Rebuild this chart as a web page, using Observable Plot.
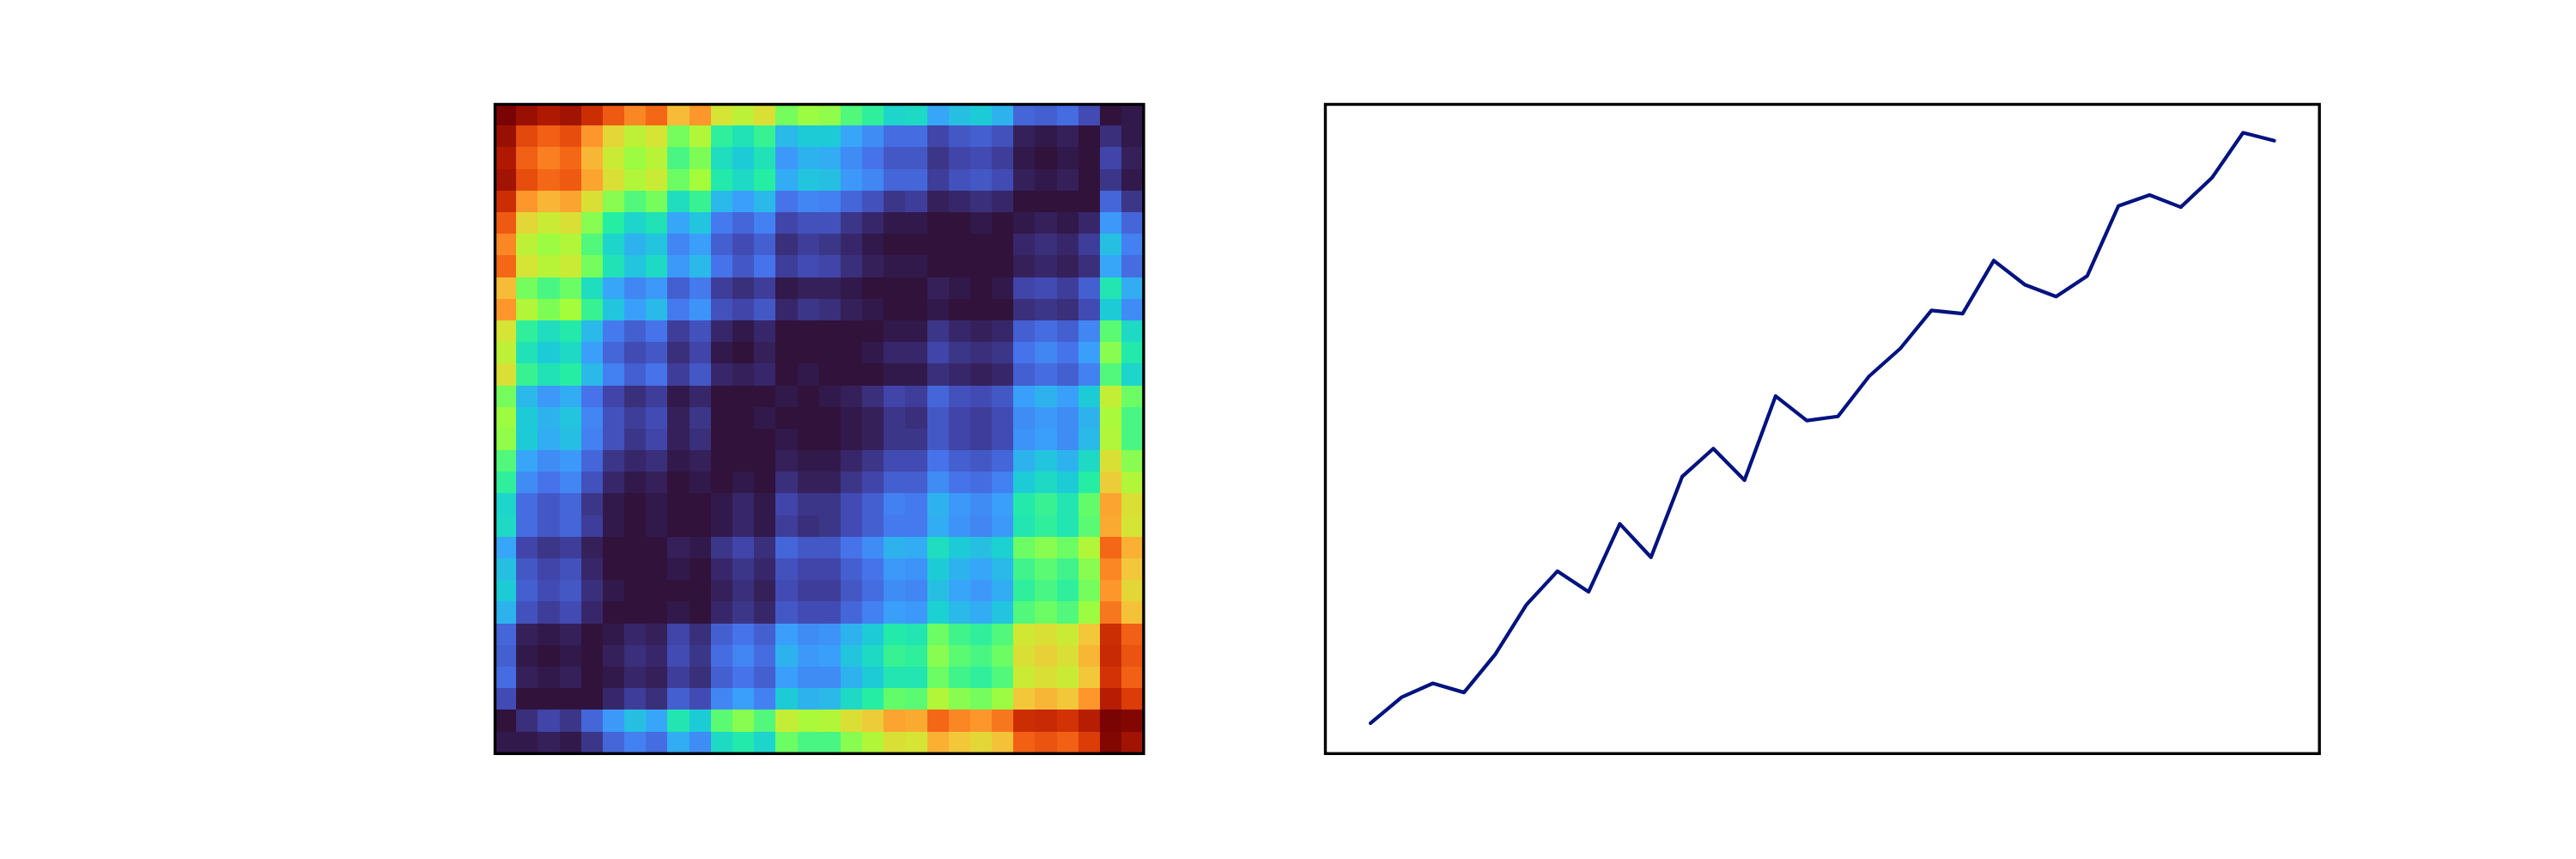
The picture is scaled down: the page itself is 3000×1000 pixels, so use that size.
<!DOCTYPE html>
<html>
<head>
<meta charset="utf-8">
<script src="https://cdn.jsdelivr.net/npm/d3@7"></script>
<script src="https://cdn.jsdelivr.net/npm/@observablehq/plot@0.6"></script>
<style>
html,body{margin:0;padding:0;background:#fff;}
#page{position:relative;width:3000px;height:1000px;overflow:hidden;background:#fff;}
#page svg{position:absolute;display:block;background:transparent;max-width:none;}
</style>
</head>
<body>
<div id="page"></div>
<script>
// Line panel: value read at each of the 30 steps
const steps = [0,1,2,3,4,5,6,7,8,9,10,11,12,13,14,15,16,17,18,19,20,21,22,23,24,25,26,27,28,29];
const series = [-1.000,-0.912,-0.865,-0.896,-0.767,-0.599,-0.485,-0.555,-0.325,-0.438,-0.165,-0.070,-0.177,0.108,0.025,0.039,0.175,0.269,0.398,0.387,0.567,0.485,0.445,0.515,0.752,0.789,0.748,0.847,1.000,0.973];

// Heat panel: position on the colour ramp (0-100), one row per line of cells
const heat = [
[100,96,93,95,88,80,74,78,66,72,58,54,59,45,49,48,41,37,30,31,22,26,28,24,12,11,13,8,0,1],
[96,83,79,82,72,61,54,58,45,52,37,33,38,25,28,28,22,18,13,13,7,10,11,9,2,1,2,0,4,1],
[93,79,75,78,67,56,49,53,40,46,32,28,33,20,24,23,18,14,10,10,5,7,8,6,1,0,1,0,7,2],
[95,82,78,80,70,59,52,56,44,50,35,31,36,23,27,26,20,17,12,12,6,9,10,8,2,1,2,0,5,1],
[88,72,67,70,59,47,41,45,32,38,25,21,25,14,17,16,12,9,5,6,2,3,4,3,0,0,0,0,12,5],
[80,61,56,59,47,36,30,33,22,27,15,12,16,7,9,9,5,3,1,1,0,0,1,0,1,2,1,3,20,12],
[74,54,49,52,41,30,24,27,17,21,11,8,11,4,6,5,3,1,0,0,0,0,0,0,3,4,3,6,26,16],
[78,58,53,56,45,33,27,31,20,25,14,10,14,6,8,7,4,2,1,1,0,0,0,0,2,3,2,4,22,13],
[66,45,40,44,32,22,17,20,11,15,6,4,6,1,2,2,1,0,0,0,2,1,0,1,7,8,6,11,34,23],
[72,52,46,50,38,27,21,25,15,19,9,7,10,3,5,4,2,1,0,0,1,0,0,0,4,5,4,8,28,18],
[58,37,32,35,25,15,11,14,6,9,3,1,3,0,0,0,0,0,1,1,5,3,2,3,11,13,11,17,42,31],
[54,33,28,31,21,12,8,10,4,7,1,0,2,0,0,0,0,1,3,3,7,5,4,5,14,17,14,21,47,35],
[59,38,33,36,25,16,11,14,6,10,3,2,3,0,1,0,0,0,1,1,4,3,2,3,11,13,11,16,41,30],
[45,25,20,23,14,7,4,6,1,3,0,0,0,1,0,1,2,4,7,6,12,9,8,10,21,24,21,28,55,44],
[49,28,24,27,17,9,6,8,2,5,0,0,1,0,0,0,1,2,5,4,10,7,6,8,18,20,18,24,51,40],
[48,28,23,26,16,9,5,7,2,4,0,0,0,1,0,0,1,2,5,5,10,7,6,8,19,21,18,25,52,40],
[41,22,18,20,12,5,3,4,1,2,0,0,0,2,1,1,3,5,8,8,14,11,10,12,24,27,24,31,59,47],
[37,18,14,17,9,3,1,2,0,1,0,1,0,4,2,2,5,7,11,11,18,14,13,16,28,31,28,36,63,52],
[30,13,10,12,5,1,0,1,0,0,1,3,1,7,5,5,8,11,16,15,24,20,18,21,35,38,34,43,70,59],
[31,13,10,12,6,1,0,1,0,0,1,3,1,6,4,5,8,11,15,15,23,19,17,20,34,37,34,42,69,58],
[22,7,5,6,2,0,0,0,2,1,5,7,4,12,10,10,14,18,24,23,32,28,26,29,44,47,44,52,78,68],
[26,10,7,9,3,0,0,0,1,0,3,5,3,9,7,7,11,14,20,19,28,24,22,25,39,42,39,47,74,64],
[28,11,8,10,4,1,0,0,0,0,2,4,2,8,6,6,10,13,18,17,26,22,20,23,37,40,37,45,72,61],
[24,9,6,8,3,0,0,0,1,0,3,5,3,10,8,8,12,16,21,20,29,25,23,27,41,44,41,49,76,65],
[12,2,1,2,0,1,3,2,7,4,11,14,11,21,18,19,24,28,35,34,44,39,37,41,57,59,56,64,88,79],
[11,1,0,1,0,2,4,3,8,5,13,17,13,24,20,21,27,31,38,37,47,42,40,44,59,62,59,67,89,81],
[13,2,1,2,0,1,3,2,6,4,11,14,11,21,18,18,24,28,34,34,44,39,37,41,56,59,56,64,87,79],
[8,0,0,0,0,3,6,4,11,8,17,21,16,28,24,25,31,36,43,42,52,47,45,49,64,67,64,72,92,85],
[0,4,7,5,12,20,26,22,34,28,42,47,41,55,51,52,59,63,70,69,78,74,72,76,88,89,87,92,100,99],
[1,1,2,1,5,12,16,13,23,18,31,35,30,44,40,40,47,52,59,58,68,64,61,65,79,81,79,85,99,95]
];

// Colour ramp anchors, evenly spaced over 0-100
const rampColors = ["#30123b","#4145ab","#4675ed","#39a2fc","#1bcfd4","#24eca6","#61fc6c","#a4fc3b","#d1e834","#f3c63a","#fe9b2d","#f36315","#d93806","#b11901","#7a0403"];
const rampStops = rampColors.map((c, i) => i / (rampColors.length - 1) * 100);

const cells = heat.flatMap((row, r) => row.map((v, c) => ({r, c, v})));

const pad = 10;
const heatPanel = Plot.plot({
  width: 755.4 + 2 * pad,
  height: 755.8 + 2 * pad,
  margin: pad,
  x: {type: "band", domain: steps, padding: 0, round: false, axis: null},
  y: {type: "band", domain: steps, padding: 0, round: false, axis: null},
  color: {type: "linear", domain: rampStops, range: rampColors},
  marks: [
    Plot.cell(cells, {x: "c", y: "r", fill: "v", inset: 0, shapeRendering: "crispEdges"}),
    Plot.frame({stroke: "#000", strokeWidth: 3.4})
  ]
});
heatPanel.style.left = (576.3 - pad) + "px";
heatPanel.style.top = (120.7 - pad) + "px";

const linePanel = Plot.plot({
  width: 1157.7 + 2 * pad,
  height: 755.8 + 2 * pad,
  margin: pad,
  x: {domain: [-1.45, 30.45], axis: null},
  y: {domain: [-1.103, 1.096], axis: null},
  marks: [
    Plot.line(steps, {x: (d) => d, y: (d) => series[d], stroke: "#00137f", strokeWidth: 4.2, strokeLinecap: "round", strokeLinejoin: "round"}),
    Plot.frame({stroke: "#000", strokeWidth: 3.4})
  ]
});
linePanel.style.left = (1543 - pad) + "px";
linePanel.style.top = (120.7 - pad) + "px";

const page = document.getElementById("page");
page.append(heatPanel, linePanel);
</script>
</body>
</html>
